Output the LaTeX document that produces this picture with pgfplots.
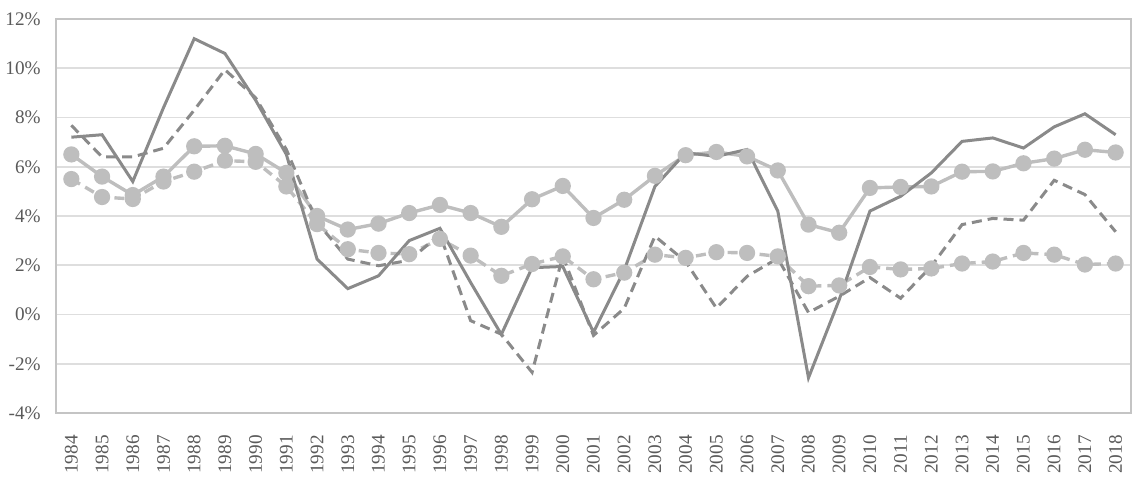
\documentclass[border=0pt]{standalone}
\usepackage{pgfplots}
\pgfplotsset{compat=1.18}
\usepackage{fontspec}
\setmainfont{Liberation Serif}
\definecolor{darkline}{HTML}{8A8A8A}
\definecolor{lightline}{HTML}{BEBEBE}
\definecolor{gridc}{HTML}{DEDEDE}
\definecolor{framec}{HTML}{C4C4C4}
\definecolor{labelc}{HTML}{5A5A5A}
\begin{document}
\begin{tikzpicture}
\useasboundingbox (-28pt,-41.5pt) rectangle (539.5pt,206.5pt);
\begin{axis}[
  scale only axis,
  width=537.5pt, height=197pt,
  xmin=1983.5, xmax=2018.5,
  ymin=-4, ymax=12,
  xtick={1984,...,2018},
  ytick={-4,-2,...,12},
  major tick length=0pt,
  ymajorgrids,
  grid style={gridc, line width=0.8pt},
  axis line style={framec, line width=0.9pt},
  /pgf/number format/assume math mode=true,
  font=\fontsize{9.6}{11.5}\selectfont,
  tick label style={labelc},
  xticklabel style={rotate=90, anchor=east, /pgf/number format/1000 sep=, inner sep=1pt},
  xticklabel shift=10pt,
  yticklabel={\pgfmathprintnumber{\tick}\%},
  yticklabel style={xshift=-6.5pt, inner sep=1pt},
  clip=false,
]
% light dashed with markers
\addplot[lightline, line width=1.7pt, dash pattern=on 5pt off 3pt, mark=*, mark size=3.2pt, mark options={solid, fill=lightline, draw=lightline}] coordinates {
(1984,5.5)(1985,4.77)(1986,4.69)(1987,5.4)(1988,5.8)(1989,6.25)(1990,6.2)(1991,5.2)(1992,3.67)(1993,2.65)(1994,2.5)(1995,2.45)(1996,3.07)(1997,2.39)(1998,1.57)(1999,2.05)(2000,2.36)(2001,1.43)(2002,1.7)(2003,2.43)(2004,2.3)(2005,2.53)(2006,2.5)(2007,2.36)(2008,1.15)(2009,1.18)(2010,1.93)(2011,1.83)(2012,1.87)(2013,2.07)(2014,2.15)(2015,2.5)(2016,2.43)(2017,2.03)(2018,2.07)};
% light solid with markers
\addplot[lightline, line width=1.7pt, mark=*, mark size=3.2pt, mark options={solid, fill=lightline, draw=lightline}] coordinates {
(1984,6.5)(1985,5.6)(1986,4.85)(1987,5.6)(1988,6.83)(1989,6.85)(1990,6.52)(1991,5.75)(1992,4.0)(1993,3.45)(1994,3.69)(1995,4.12)(1996,4.45)(1997,4.12)(1998,3.56)(1999,4.68)(2000,5.22)(2001,3.92)(2002,4.66)(2003,5.63)(2004,6.47)(2005,6.6)(2006,6.42)(2007,5.85)(2008,3.65)(2009,3.32)(2010,5.14)(2011,5.18)(2012,5.2)(2013,5.8)(2014,5.81)(2015,6.14)(2016,6.33)(2017,6.69)(2018,6.58)};
% dark dashed
\addplot[darkline, line width=1.5pt, dash pattern=on 5pt off 3pt] coordinates {
(1984,7.68)(1985,6.4)(1986,6.4)(1987,6.75)(1988,8.3)(1989,9.94)(1990,8.8)(1991,6.7)(1992,3.75)(1993,2.25)(1994,1.98)(1995,2.2)(1996,3.25)(1997,-0.25)(1998,-0.8)(1999,-2.35)(2000,2.37)(2001,-0.85)(2002,0.25)(2003,3.18)(2004,2.15)(2005,0.26)(2006,1.55)(2007,2.28)(2008,0.08)(2009,0.74)(2010,1.5)(2011,0.66)(2012,1.96)(2013,3.65)(2014,3.9)(2015,3.83)(2016,5.45)(2017,4.87)(2018,3.36)};
% dark solid
\addplot[darkline, line width=1.5pt] coordinates {
(1984,7.2)(1985,7.3)(1986,5.4)(1987,8.4)(1988,11.2)(1989,10.6)(1990,8.7)(1991,6.5)(1992,2.25)(1993,1.05)(1994,1.57)(1995,3.0)(1996,3.5)(1997,1.3)(1998,-0.81)(1999,1.9)(2000,1.95)(2001,-0.72)(2002,1.8)(2003,5.2)(2004,6.57)(2005,6.42)(2006,6.7)(2007,4.2)(2008,-2.57)(2009,0.6)(2010,4.2)(2011,4.8)(2012,5.75)(2013,7.03)(2014,7.17)(2015,6.76)(2016,7.62)(2017,8.15)(2018,7.3)};
\end{axis}
\end{tikzpicture}
\end{document}
